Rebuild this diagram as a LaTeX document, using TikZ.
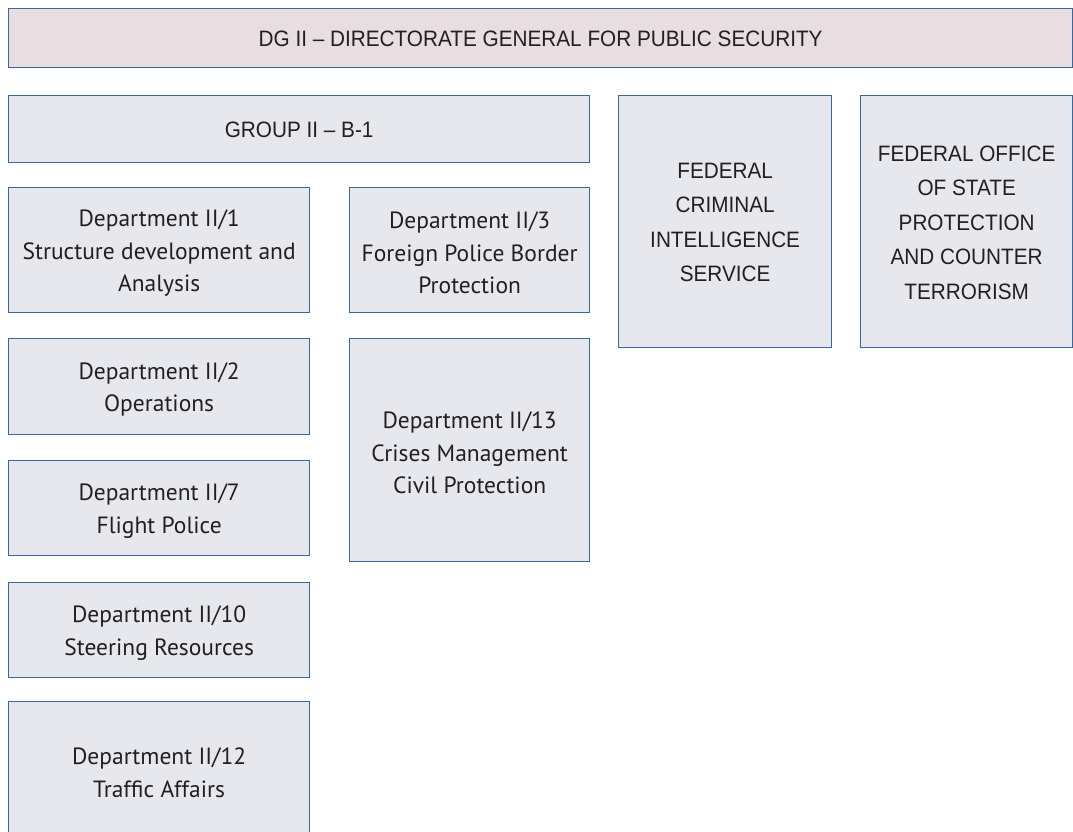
\documentclass[tikz,border=0pt]{standalone}
\usepackage{fontspec}
\setmainfont{PT Sans}
\newfontfamily\helv[FakeStretch=0.93]{Liberation Sans}
\definecolor{bord}{RGB}{55,105,155}
\definecolor{boxfill}{RGB}{231,232,238}
\definecolor{topfill}{RGB}{232,221,225}
\definecolor{ink}{RGB}{35,31,32}
\tikzset{
  orgbox/.style={draw=bord, fill=boxfill, line width=1.3pt, inner sep=0pt,
    anchor=north west},
  depttext/.style={inner sep=0pt, align=center, text=ink,
    font=\fontsize{23.5}{32.5}\selectfont},
  captext/.style={inner sep=0pt, align=center, text=ink,
    font=\helv\fontsize{22.3}{34.5}\selectfont},
}
\begin{document}
\begin{tikzpicture}[x=1pt,y=-1pt]
\clip (0,0) rectangle (1073,831);
\fill[white] (0,0) rectangle (1073,831);
% boxes
\node[orgbox, fill=topfill, minimum width=1064pt, minimum height=59pt] (dg) at (8,8) {};
\node[orgbox, minimum width=581pt, minimum height=67pt] (grp) at (8,95) {};
\node[orgbox, minimum width=301pt, minimum height=125pt] (d1) at (8,187) {};
\node[orgbox, minimum width=240pt, minimum height=125pt] (d3) at (349,187) {};
\node[orgbox, minimum width=301pt, minimum height=96pt] (d2) at (8,338) {};
\node[orgbox, minimum width=240pt, minimum height=223pt] (d13) at (349,338) {};
\node[orgbox, minimum width=301pt, minimum height=95pt] (d7) at (8,460) {};
\node[orgbox, minimum width=301pt, minimum height=95pt] (d10) at (8,582) {};
\node[orgbox, minimum width=301pt, minimum height=136pt] (d12) at (8,701) {};
\node[orgbox, minimum width=213pt, minimum height=252pt] (fcis) at (618,95) {};
\node[orgbox, minimum width=212pt, minimum height=252pt] (fosp) at (860,95) {};
% texts
\node[captext] (dgt) at ([yshift=-1pt]dg.center) {DG II – DIRECTORATE GENERAL FOR PUBLIC SECURITY};
\node[captext] (grpt) at ([yshift=-1pt]grp.center) {GROUP II – B-1};
\node[depttext] (d1t) at ([yshift=-3pt]d1.center) {Department II/1\\Structure development and\\Analysis};
\node[depttext] (d3t) at ([yshift=-3pt]d3.center) {Department II/3\\Foreign Police Border\\Protection};
\node[depttext] (d2t) at ([yshift=-3pt]d2.center) {Department II/2\\Operations};
\node[depttext] (d13t) at ([yshift=-3pt]d13.center) {Department II/13\\Crises Management\\Civil Protection};
\node[depttext] (d7t) at ([yshift=-3pt]d7.center) {Department II/7\\Flight Police};
\node[depttext] (d10t) at ([yshift=-3pt]d10.center) {Department II/10\\Steering Resources};
\node[depttext] (d12t) at ([yshift=-3pt]d12.center) {Department II/12\\Traffic Affairs};
\node[captext] (fcist) at ([yshift=-1pt]fcis.center) {FEDERAL\\CRIMINAL\\INTELLIGENCE\\SERVICE};
\node[captext] (fospt) at ([yshift=-1pt]fosp.center) {FEDERAL OFFICE\\OF STATE\\PROTECTION\\AND COUNTER\\TERRORISM};
\end{tikzpicture}
\end{document}
